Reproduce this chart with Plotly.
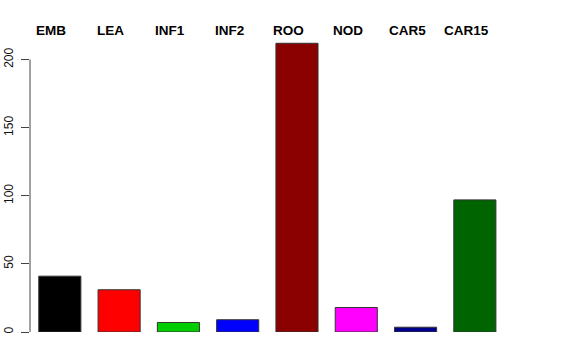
import plotly.graph_objects as go

categories = ["EMB", "LEA", "INF1", "INF2", "ROO", "NOD", "CAR5", "CAR15"]
values = [41, 31, 7, 9, 212, 18, 3.5, 97]
colors = ["#000000", "#FF0000", "#00CD00", "#0000FF", "#8B0000", "#FF00FF", "#00008B", "#006400"]
y_ticks = [0, 50, 100, 150, 200]

xs = list(range(len(categories)))

fig = go.Figure()
fig.add_trace(go.Bar(
    x=xs, y=values,
    marker=dict(color=colors, line=dict(color="#333333", width=1)),
    width=0.71,
    hoverinfo="skip",
))

for i, name in enumerate(categories):
    fig.add_annotation(
        x=i, y=1.034, xref="x", yref="paper",
        text="<b>%s</b>" % name, showarrow=False,
        xanchor="center", yanchor="middle", xshift=-8.5,
        font=dict(family="Liberation Sans, Arial, sans-serif", size=13.5, color="#000000"),
    )

# R-style axis line spanning only the tick range
fig.add_shape(type="line", xref="paper", yref="y", x0=0, x1=0,
              y0=y_ticks[0], y1=y_ticks[-1],
              line=dict(color="#444444", width=1))

fig.update_layout(
    template="none",
    width=576, height=360,
    margin=dict(l=29.5, r=30, t=40, b=28),
    paper_bgcolor="white", plot_bgcolor="white",
    showlegend=False,
    xaxis=dict(range=[-0.503, 8.2], showticklabels=False, showgrid=False, automargin=False,
               zeroline=False, showline=False, ticks=""),
    yaxis=dict(range=[0, 214.4], tickvals=y_ticks, ticktext=[str(v) for v in y_ticks],
               tickangle=-90, ticks="outside", ticklen=8, tickcolor="#444444", automargin=False,
               tickwidth=1, showgrid=False, zeroline=False, showline=False,
               ticklabelstandoff=3,
               tickfont=dict(family="Liberation Sans, Arial, sans-serif", size=12, color="#111111")),
)

fig.write_html("out.html")
